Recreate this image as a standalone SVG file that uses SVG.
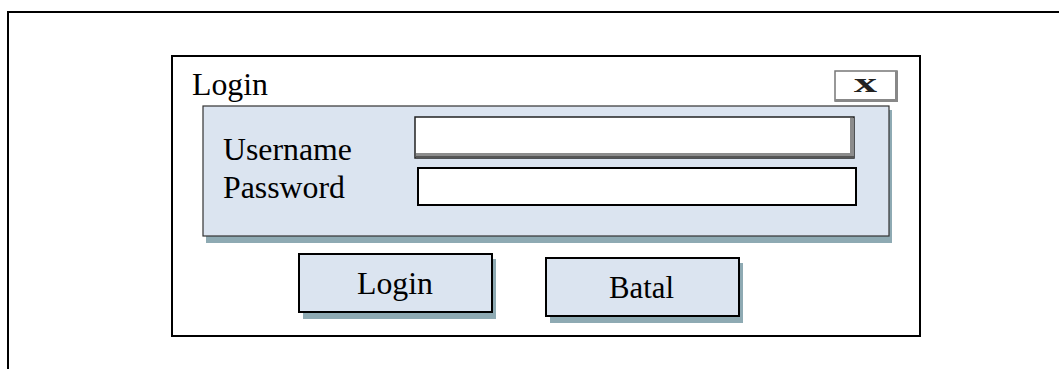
<svg xmlns="http://www.w3.org/2000/svg" width="1059" height="369" viewBox="0 0 1059 369">
  <style>
    .frame { fill: none; stroke: #000; stroke-width: 2; }
    .panel { fill: #dbe4f0; stroke: #333; stroke-width: 1.2; }
    .shadow { fill: #8eaab3; }
    .field { fill: #fff; stroke: #000; stroke-width: 2; }
    .btn { fill: #dbe4f0; stroke: #000; stroke-width: 2; }
    .label { font-family: 'Liberation Serif', serif; font-size: 31px; fill: #000; }
  </style>

  <!-- page frame, running off the right and bottom edges -->
  <path class="frame" d="M8,369 V12 H1059"/>

  <!-- dialog window -->
  <g id="dialog">
    <rect x="172" y="56" width="748" height="280" fill="#fff" stroke="#000" stroke-width="2"/>
    <text class="label" x="192" y="95" textLength="76" lengthAdjust="spacingAndGlyphs">Login</text>
  </g>

  <!-- close button -->
  <g id="close-button">
    <rect x="835" y="71" width="62" height="30" fill="#fff" stroke="#777" stroke-width="1.5"/>
    <rect x="835" y="99" width="62" height="3" fill="#888"/>
    <rect x="895" y="71" width="3" height="31" fill="#888"/>
    <text x="854" y="92" font-family="'Liberation Serif', serif" font-weight="bold" font-size="28" fill="#222" textLength="23" lengthAdjust="spacingAndGlyphs">x</text>
  </g>

  <!-- credentials panel -->
  <g id="credentials-panel">
    <rect class="shadow" x="206" y="110" width="686" height="133"/>
    <rect class="panel" x="203" y="106" width="686" height="130"/>
    <text class="label" x="223" y="160" textLength="129" lengthAdjust="spacingAndGlyphs">Username</text>
    <text class="label" x="223" y="198" textLength="122" lengthAdjust="spacingAndGlyphs">Password</text>
  </g>

  <!-- username input -->
  <g id="username-field">
    <rect x="415" y="117" width="439" height="41" fill="#fff" stroke="#222" stroke-width="1.5"/>
    <rect x="416" y="153" width="438" height="5" fill="#8c8c8c"/>
    <rect x="850" y="118" width="4" height="40" fill="#8c8c8c"/>
    <rect x="416" y="156" width="438" height="2" fill="#555"/>
  </g>

  <!-- password input -->
  <g id="password-field">
    <rect class="field" x="418" y="168" width="438" height="37"/>
  </g>

  <!-- login button -->
  <g id="login-button">
    <rect class="shadow" x="303" y="259" width="193" height="60"/>
    <rect class="btn" x="299" y="254" width="193" height="58"/>
    <text class="label" x="357" y="294" textLength="76" lengthAdjust="spacingAndGlyphs">Login</text>
  </g>

  <!-- cancel button -->
  <g id="cancel-button">
    <rect class="shadow" x="550" y="263" width="193" height="60"/>
    <rect class="btn" x="546" y="258" width="193" height="58"/>
    <text class="label" x="609" y="298" textLength="65" lengthAdjust="spacingAndGlyphs">Batal</text>
  </g>

  <g id="connectors"/>
</svg>
